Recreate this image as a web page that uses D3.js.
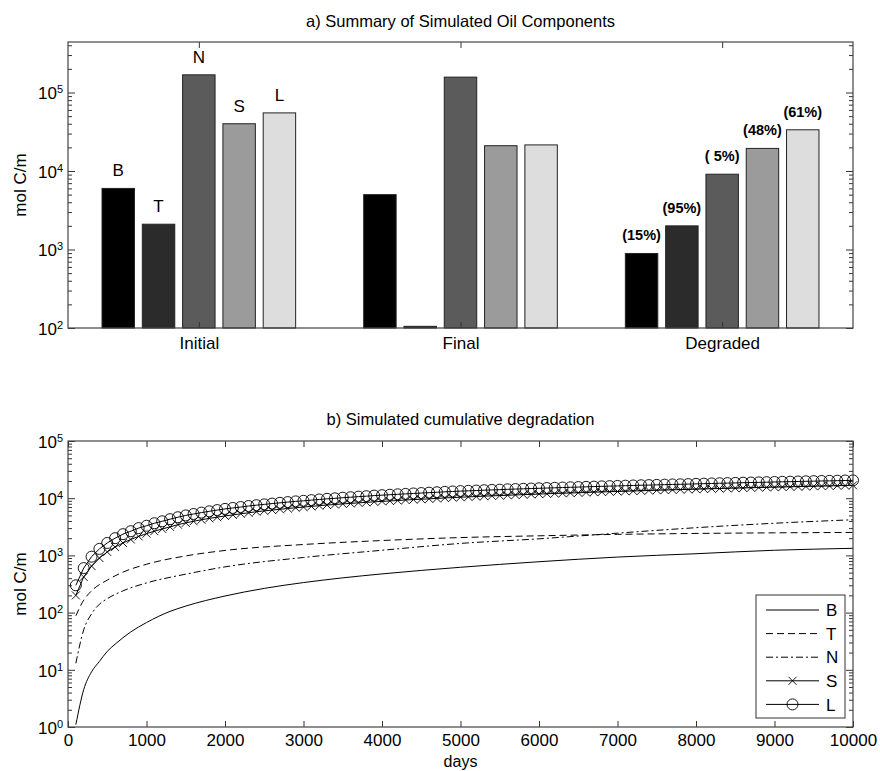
<!DOCTYPE html>
<html>
<head>
<meta charset="utf-8">
<script src="https://cdnjs.cloudflare.com/ajax/libs/d3/7.8.5/d3.min.js"></script>
<style>
  body { margin: 0; background: #fff; }
  text { font-family: "Liberation Sans", Arial, sans-serif; fill: #000; }
</style>
</head>
<body>
<svg id="chart" width="880" height="771"></svg>
<script>
// ---- data: a) bar summary ----
var components = ["B", "T", "N", "S", "L"];
var groups = ["Initial", "Final", "Degraded"];
var initialVals = [6000, 2100, 168000, 40000, 55000];
var finalVals = [5000, 105, 157000, 21000, 21500];
var degradedVals = [890, 2000, 9100, 19400, 33500];
var degradedPct = ["(15%)", "(95%)", "( 5%)", "(48%)", "(61%)"];
var barFills = ["#000000", "#2b2b2b", "#5b5b5b", "#9b9b9b", "#dddddd"];

// ---- data: b) cumulative degradation ----
var daysB = [100, 200, 300, 400, 500, 600, 800, 1000, 1300, 1500, 2000, 2500, 3000, 3500, 4000, 5000, 6000, 7000, 8000, 9000, 10000];
var valsB = [1.1, 4.5, 9.2, 14, 21, 28, 46, 67, 105, 130, 195, 265, 335, 405, 475, 620, 775, 935, 1070, 1230, 1330];
var daysT = [100, 200, 300, 500, 700, 1000, 1500, 2000, 3000, 4000, 5000, 6000, 7000, 8000, 9000, 10000];
var valsT = [88, 165, 240, 370, 510, 700, 980, 1220, 1550, 1820, 2050, 2200, 2330, 2420, 2480, 2520];
var daysN = [100, 200, 300, 400, 500, 700, 1000, 1500, 2000, 3000, 4000, 5000, 6000, 7000, 8000, 9000, 10000];
var valsN = [13, 50, 95, 140, 175, 240, 330, 470, 630, 920, 1230, 1620, 1950, 2450, 3050, 3650, 4200];
var daysSL = d3.range(100, 10001, 100);
var valsS = [200, 420, 650, 900, 1150, 1400, 1650, 1900, 2150, 2400,
  2650, 2900, 3150, 3450, 3700, 3950, 4200, 4450, 4650, 4900,
  5100, 5350, 5550, 5800, 6000, 6200, 6400, 6600, 6800, 7000,
  7200, 7400, 7600, 7750, 7950, 8100, 8300, 8450, 8650, 8800,
  8950, 9100, 9300, 9450, 9600, 9750, 9900, 10100, 10250, 10400,
  10550, 10700, 10850, 11000, 11100, 11250, 11400, 11550, 11650, 11800,
  11950, 12100, 12200, 12350, 12450, 12600, 12750, 12850, 13000, 13100,
  13250, 13350, 13500, 13650, 13750, 13900, 14000, 14150, 14250, 14400,
  14500, 14650, 14750, 14900, 15000, 15100, 15250, 15350, 15500, 15600,
  15700, 15850, 15950, 16050, 16200, 16300, 16400, 16550, 16650, 16800];
var valsL = [300, 600, 950, 1300, 1650, 2000, 2350, 2650, 3000, 3300,
  3650, 3950, 4300, 4650, 5000, 5300, 5600, 5900, 6200, 6500,
  6750, 7000, 7300, 7550, 7800, 8050, 8300, 8550, 8800, 9000,
  9250, 9500, 9750, 9950, 10200, 10400, 10650, 10850, 11100, 11300,
  11500, 11700, 11900, 12100, 12300, 12500, 12700, 12900, 13100, 13300,
  13450, 13600, 13800, 13950, 14100, 14300, 14450, 14600, 14750, 14900,
  15050, 15200, 15350, 15500, 15650, 15800, 15950, 16100, 16250, 16400,
  16550, 16700, 16850, 16950, 17100, 17250, 17400, 17500, 17650, 17800,
  17950, 18100, 18250, 18350, 18500, 18650, 18800, 18900, 19050, 19200,
  19350, 19450, 19600, 19750, 19850, 20000, 20100, 20250, 20400, 20500];
var dayTicks = [0, 1000, 2000, 3000, 4000, 5000, 6000, 7000, 8000, 9000, 10000];

var svg = d3.select("#chart");
var plotW = 785, plotH = 286;

// log axis: majors with 10^n labels, minors 2..9, mirrored on the right
function logAxis(g, y, lo, hi, w) {
  var majors = d3.range(lo, hi + 1).map(function(p) { return Math.pow(10, p); });
  var minors = [];
  d3.range(lo, hi + 1).forEach(function(p) {
    for (var k = 2; k <= 9; k++) {
      var v = k * Math.pow(10, p);
      if (v >= y.domain()[0] && v <= y.domain()[1]) minors.push(v);
    }
  });
  [[majors, 7], [minors, 4]].forEach(function(s) {
    g.append("g").call(d3.axisLeft(y).tickValues(s[0]).tickSize(-s[1]).tickFormat(""))
      .call(function(a) { a.select(".domain").remove(); a.selectAll("line").attr("stroke", "#333"); });
    g.append("g").attr("transform", "translate(" + w + ",0)")
      .call(d3.axisRight(y).tickValues(s[0]).tickSize(-s[1]).tickFormat(""))
      .call(function(a) { a.select(".domain").remove(); a.selectAll("line").attr("stroke", "#333"); });
  });
  var lab = g.selectAll(".ylab").data(d3.range(lo, hi + 1)).enter().append("text")
    .attr("class", "ylab")
    .attr("x", -5)
    .attr("y", function(p) { return y(Math.pow(10, p)); })
    .attr("dy", "0.4em")
    .attr("text-anchor", "end")
    .style("font-size", "17px");
  lab.append("tspan").text("10");
  lab.append("tspan").attr("dy", "-0.55em").style("font-size", "11px").text(function(p) { return p; });
}

// ================= a) bars =================
var ga = svg.append("g").attr("transform", "translate(68,42)");
var xa = d3.scaleLinear().domain([0.5, 3.5]).range([0, plotW]);
var ya = d3.scaleLog().domain([100, 4.4e5]).range([plotH, 0]);
var slot = 0.154, barW = 0.124;

var barData = [];
[initialVals, finalVals, degradedVals].forEach(function(vals, gi) {
  vals.forEach(function(v, ci) { barData.push({g: gi + 1, c: ci, v: v}); });
});

ga.selectAll("rect.bar").data(barData).enter().append("rect")
  .attr("class", "bar")
  .attr("x", function(d) { return xa(d.g + (d.c - 2) * slot - barW / 2); })
  .attr("width", xa(barW) - xa(0))
  .attr("y", function(d) { return ya(d.v); })
  .attr("height", function(d) { return plotH - ya(d.v); })
  .attr("fill", function(d) { return barFills[d.c]; })
  .attr("stroke", "#222")
  .attr("stroke-width", 1);

// component letters above Initial bars
ga.selectAll("text.comp").data(initialVals).enter().append("text")
  .attr("class", "comp")
  .attr("x", function(d, i) { return xa(1 + (i - 2) * slot); })
  .attr("y", function(d) { return ya(d) - 12; })
  .attr("text-anchor", "middle")
  .style("font-size", "17px")
  .text(function(d, i) { return components[i]; });

// percentages above Degraded bars
ga.selectAll("text.pct").data(degradedVals).enter().append("text")
  .attr("class", "pct")
  .attr("x", function(d, i) { return xa(3 + (i - 2) * slot); })
  .attr("y", function(d) { return ya(d) - 13; })
  .attr("text-anchor", "middle")
  .style("font-size", "14.5px")
  .style("font-weight", "bold")
  .text(function(d, i) { return degradedPct[i]; });

// category axis
ga.append("g").attr("transform", "translate(0," + plotH + ")")
  .call(d3.axisBottom(xa).tickValues([1, 2, 3]).tickSize(-6).tickPadding(9)
    .tickFormat(function(d) { return groups[d - 1]; }))
  .call(function(a) { a.select(".domain").remove(); a.selectAll("line").attr("stroke", "#333");
    a.selectAll("text").style("font-size", "17px").attr("font-family", null); });
ga.append("g")
  .call(d3.axisTop(xa).tickValues([1, 2, 3]).tickSize(-6).tickFormat(""))
  .call(function(a) { a.select(".domain").remove(); a.selectAll("line").attr("stroke", "#333"); });
logAxis(ga, ya, 2, 5, plotW);
ga.append("rect").attr("width", plotW).attr("height", plotH)
  .attr("fill", "none").attr("stroke", "#444").attr("stroke-width", 1.2);

ga.append("text").attr("x", plotW / 2).attr("y", -15).attr("text-anchor", "middle")
  .style("font-size", "16.5px").text("a) Summary of Simulated Oil Components");
ga.append("text").attr("transform", "rotate(-90)")
  .attr("x", -plotH / 2).attr("y", -42).attr("text-anchor", "middle")
  .style("font-size", "17px").text("mol C/m");

// ================= b) lines =================
var gb = svg.append("g").attr("transform", "translate(68,441)");
var xb = d3.scaleLinear().domain([0, 10000]).range([0, plotW]);
var yb = d3.scaleLog().domain([1, 1e5]).range([plotH, 0]);

gb.append("g").attr("transform", "translate(0," + plotH + ")")
  .call(d3.axisBottom(xb).tickValues(dayTicks).tickSize(-6).tickPadding(7).tickFormat(d3.format("d")))
  .call(function(a) { a.select(".domain").remove(); a.selectAll("line").attr("stroke", "#333");
    a.selectAll("text").style("font-size", "17px").attr("font-family", null); });
gb.append("g")
  .call(d3.axisTop(xb).tickValues(dayTicks).tickSize(-6).tickFormat(""))
  .call(function(a) { a.select(".domain").remove(); a.selectAll("line").attr("stroke", "#333"); });
logAxis(gb, yb, 0, 5, plotW);

var smooth = d3.line().curve(d3.curveMonotoneX)
  .x(function(d) { return xb(d[0]); }).y(function(d) { return yb(d[1]); });
var straight = d3.line()
  .x(function(d) { return xb(d[0]); }).y(function(d) { return yb(d[1]); });

var series = [
  {name: "B", pts: d3.zip(daysB, valsB), dash: null, line: smooth},
  {name: "T", pts: d3.zip(daysT, valsT), dash: "7,4", line: smooth},
  {name: "N", pts: d3.zip(daysN, valsN), dash: "7,3,2,3", line: smooth},
  {name: "S", pts: d3.zip(daysSL, valsS), dash: null, line: straight, mark: "x"},
  {name: "L", pts: d3.zip(daysSL, valsL), dash: null, line: straight, mark: "o"}
];

function drawMark(sel, kind) {
  if (kind === "x") {
    sel.append("path").attr("d", "M-4,-4L4,4M-4,4L4,-4")
      .attr("stroke", "#000").attr("stroke-width", 0.9).attr("fill", "none");
  } else {
    sel.append("circle").attr("r", 5.5)
      .attr("stroke", "#000").attr("stroke-width", 0.9).attr("fill", "none");
  }
}

series.forEach(function(s) {
  gb.append("path").datum(s.pts)
    .attr("d", s.line)
    .attr("fill", "none")
    .attr("stroke", "#000")
    .attr("stroke-width", 1)
    .attr("stroke-dasharray", s.dash);
  if (s.mark) {
    gb.selectAll("g.m" + s.name).data(s.pts).enter().append("g")
      .attr("class", "m" + s.name)
      .attr("transform", function(d) { return "translate(" + xb(d[0]) + "," + yb(d[1]) + ")"; })
      .each(function() { drawMark(d3.select(this), s.mark); });
  }
});

gb.append("rect").attr("width", plotW).attr("height", plotH)
  .attr("fill", "none").attr("stroke", "#444").attr("stroke-width", 1.2);

gb.append("text").attr("x", plotW / 2).attr("y", -16).attr("text-anchor", "middle")
  .style("font-size", "16.5px").text("b) Simulated cumulative degradation");
gb.append("text").attr("x", plotW / 2).attr("y", plotH + 40).attr("text-anchor", "middle")
  .style("font-size", "16px").text("days");
gb.append("text").attr("transform", "rotate(-90)")
  .attr("x", -plotH / 2).attr("y", -42).attr("text-anchor", "middle")
  .style("font-size", "17px").text("mol C/m");

// legend
var lg = gb.append("g").attr("transform", "translate(688,154)");
lg.append("rect").attr("width", 89).attr("height", 123)
  .attr("fill", "#fff").attr("stroke", "#333").attr("stroke-width", 1);
series.forEach(function(s, i) {
  var row = lg.append("g").attr("transform", "translate(0," + (15 + i * 23.6) + ")");
  row.append("line").attr("x1", 10).attr("x2", 63)
    .attr("stroke", "#000").attr("stroke-width", 1).attr("stroke-dasharray", s.dash);
  if (s.mark) drawMark(row.append("g").attr("transform", "translate(36.5,0)"), s.mark);
  row.append("text").attr("x", 70).attr("dy", "0.36em").style("font-size", "17px").text(s.name);
});
</script>
</body>
</html>
